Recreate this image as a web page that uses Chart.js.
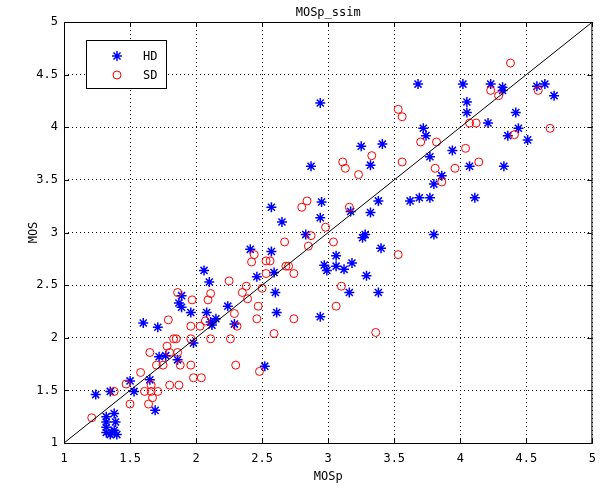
<!DOCTYPE html>
<html>
<head>
<meta charset="utf-8">
<script src="https://cdn.jsdelivr.net/npm/chart.js@4"></script>
<style>
html, body { margin: 0; padding: 0; background: #fff; }
</style>
</head>
<body>
<canvas id="myChart" width="605" height="486"></canvas>
<script>
// HD points (MOSp, MOS)
const hdX = [1.60, 1.71, 1.24, 1.35, 1.50, 1.53, 1.65, 1.69, 1.72, 1.77, 1.86, 1.98,
  1.32, 1.32, 1.38, 1.39, 1.32, 1.32, 1.35, 1.38, 1.40, 1.36,
  2.65, 2.41, 2.57, 2.06, 2.10, 2.46, 2.59, 2.60, 1.89, 1.87, 1.89, 1.96, 2.24, 2.61,
  2.08, 2.11, 2.15, 2.12, 2.29, 2.57, 3.25, 3.41, 2.87, 3.32, 2.95, 3.38, 2.94, 3.17,
  3.32, 2.83, 3.28, 3.26, 3.40, 3.06, 3.18, 2.97, 2.99, 3.06, 3.12, 3.29, 3.16, 3.38,
  2.94, 3.68, 4.02, 4.23, 4.32, 4.32, 4.05, 4.05, 4.21, 4.42, 3.72, 3.74, 4.36, 3.94,
  3.77, 4.07, 4.33, 3.86, 3.80, 3.62, 3.69, 3.77, 4.11, 3.80, 4.58, 4.64, 4.71, 4.44,
  4.51, 2.94, 2.52]
const hdY = [2.14, 2.10, 1.46, 1.49, 1.59, 1.49, 1.60, 1.31, 1.82, 1.83, 1.79, 1.95,
  1.25, 1.20, 1.28, 1.20, 1.15, 1.10, 1.08, 1.12, 1.08, 1.10,
  3.10, 2.84, 2.82, 2.64, 2.53, 2.58, 2.62, 2.43, 2.40, 2.33, 2.29, 2.24, 2.30, 2.24,
  2.24, 2.15, 2.18, 2.12, 2.13, 3.24, 3.82, 3.84, 3.63, 3.64, 3.29, 3.30, 3.14, 3.20,
  3.19, 2.98, 2.98, 2.95, 2.85, 2.78, 2.71, 2.69, 2.64, 2.68, 2.65, 2.59, 2.43, 2.43,
  2.20, 4.41, 4.41, 4.41, 4.38, 4.35, 4.24, 4.14, 4.04, 4.14, 3.99, 3.92, 3.92, 3.78,
  3.72, 3.63, 3.63, 3.54, 3.46, 3.30, 3.33, 3.33, 3.33, 2.98, 4.39, 4.41, 4.30, 3.99,
  3.88, 4.23, 1.73]

// SD points (MOSp, MOS)
const sdX = [1.79, 1.96, 2.03, 1.83, 1.85, 1.96, 1.78, 1.65, 1.80, 1.86, 1.70, 1.75,
  1.88, 1.96, 1.58, 1.47, 1.66, 1.80, 1.87, 1.98, 2.04, 1.38, 1.61, 1.66, 1.71, 1.67,
  1.50, 1.64, 1.21, 2.67, 2.44, 2.42, 2.53, 2.56, 2.68, 2.70, 2.74, 2.53, 2.25, 2.38,
  2.11, 2.09, 1.86, 1.97, 2.35, 2.39, 2.50, 2.47, 2.29, 2.46, 2.74, 2.07, 2.31, 2.59,
  2.11, 2.26, 2.30, 2.48, 3.33, 3.11, 3.13, 3.23, 3.56, 2.84, 2.80, 3.16, 2.98, 2.87,
  2.85, 3.04, 3.53, 3.10, 3.06, 3.36, 3.53, 3.56, 4.23, 4.29, 4.07, 4.12, 4.41, 3.70,
  3.82, 4.04, 3.81, 3.96, 4.14, 3.86, 4.38, 4.59, 4.68]
const sdY = [2.17, 2.11, 2.11, 1.99, 1.99, 1.99, 1.92, 1.86, 1.86, 1.86, 1.74, 1.74,
  1.74, 1.74, 1.67, 1.56, 1.55, 1.55, 1.55, 1.62, 1.62, 1.49, 1.49, 1.49, 1.49, 1.43,
  1.37, 1.37, 1.24, 2.91, 2.79, 2.72, 2.73, 2.73, 2.68, 2.68, 2.61, 2.61, 2.54, 2.49,
  2.42, 2.36, 2.43, 2.36, 2.43, 2.37, 2.47, 2.30, 2.23, 2.18, 2.18, 2.16, 2.11, 2.04,
  1.99, 1.99, 1.74, 1.68, 3.73, 3.67, 3.61, 3.55, 3.67, 3.30, 3.24, 3.24, 3.05, 2.97,
  2.87, 2.91, 2.79, 2.49, 2.30, 2.05, 4.17, 4.10, 4.35, 4.30, 4.04, 4.04, 3.93, 3.86,
  3.86, 3.80, 3.61, 3.61, 3.67, 3.48, 4.61, 4.35, 3.99]

const refLine = [1, 5]
const seriesNames = ['HD', 'SD']
const chartTitle = 'MOSp_ssim'
const xTitle = 'MOSp'
const yTitle = 'MOS'

const FONT = '"DejaVu Sans Mono", monospace'

const toPoints = (xs, ys) => xs.map((x, i) => ({ x: x, y: ys[i] }))

// box, inner ticks, titles and legend like the matlab figure
const matlabFrame = {
  id: 'matlabFrame',
  afterDraw(chart) {
    const { ctx, chartArea: a, scales } = chart
    ctx.save()
    ctx.strokeStyle = '#000'
    ctx.lineWidth = 1
    ctx.setLineDash([])
    ctx.strokeRect(a.left + 0.5, a.top + 0.5, a.right - a.left - 1, a.bottom - a.top)

    ctx.beginPath()
    scales.x.ticks.forEach(t => {
      const px = Math.round(scales.x.getPixelForValue(t.value)) + 0.5
      ctx.moveTo(px, a.bottom); ctx.lineTo(px, a.bottom - 5)
      ctx.moveTo(px, a.top); ctx.lineTo(px, a.top + 5)
    })
    scales.y.ticks.forEach(t => {
      const py = Math.round(scales.y.getPixelForValue(t.value)) + 0.5
      ctx.moveTo(a.left, py); ctx.lineTo(a.left + 5, py)
      ctx.moveTo(a.right, py); ctx.lineTo(a.right - 5, py)
    })
    ctx.stroke()

    ctx.fillStyle = '#000'
    ctx.font = '12px ' + FONT
    ctx.textAlign = 'center'
    ctx.textBaseline = 'middle'
    ctx.fillText(chartTitle, (a.left + a.right) / 2, 13)
    ctx.fillText(xTitle, (a.left + a.right) / 2, 477)
    ctx.save()
    ctx.translate(34, (a.top + a.bottom) / 2)
    ctx.rotate(-Math.PI / 2)
    ctx.fillText(yTitle, 0, 0)
    ctx.restore()

    // legend
    ctx.fillStyle = '#fff'
    ctx.fillRect(86, 40, 80, 48)
    ctx.strokeRect(86.5, 40.5, 80, 48)
    const rows = [56, 75]
    chart.data.datasets.slice(0, 2).forEach((ds, i) => {
      ctx.fillStyle = 'rgba(0,0,0,0)'
      ctx.strokeStyle = ds.borderColor
      ctx.lineWidth = ds.borderWidth
      Chart.helpers.drawPoint(ctx, {
        pointStyle: ds.pointStyle, radius: ds.pointRadius,
        borderWidth: ds.borderWidth, rotation: 0
      }, 117, rows[i])
      ctx.fillStyle = '#000'
      ctx.textAlign = 'left'
      ctx.fillText(seriesNames[i], 143, rows[i] + 1)
    })
    ctx.restore()
  }
}

const ctx = document.getElementById('myChart')

new Chart(ctx, {
  type: 'scatter',
  plugins: [matlabFrame],
  data: {
    datasets: [
      {
        label: seriesNames[0],
        data: toPoints(hdX, hdY),
        pointStyle: 'star',
        pointRadius: 5,
        borderColor: '#0000ff',
        backgroundColor: '#0000ff',
        borderWidth: 1.5,
        order: 3
      },
      {
        label: seriesNames[1],
        data: toPoints(sdX, sdY),
        pointStyle: 'circle',
        pointRadius: 4,
        borderColor: '#ff0000',
        backgroundColor: 'rgba(0,0,0,0)',
        borderWidth: 1,
        order: 2
      },
      {
        type: 'line',
        label: 'ref',
        data: toPoints(refLine, refLine),
        borderColor: '#000',
        borderWidth: 1,
        pointRadius: 0,
        order: 1
      }
    ]
  },
  options: {
    responsive: false,
    animation: false,
    devicePixelRatio: 1,
    layout: { padding: { top: 22, right: 9, left: 0, bottom: 0 } },
    plugins: {
      legend: { display: false },
      tooltip: { enabled: false }
    },
    scales: {
      x: {
        type: 'linear',
        min: 1,
        max: 5,
        ticks: {
          stepSize: 0.5, color: '#000', padding: 9, maxRotation: 0,
          font: { family: FONT, size: 12 },
          callback: v => String(v)
        },
        grid: { color: '#000', drawTicks: false, lineWidth: 1 },
        border: { display: false, dash: [1, 3] },
        afterFit(scale) { scale.height = 43 }
      },
      y: {
        type: 'linear',
        min: 1,
        max: 5,
        ticks: {
          stepSize: 0.5, color: '#000', padding: 6,
          font: { family: FONT, size: 12 },
          callback: v => String(v)
        },
        grid: { color: '#000', drawTicks: false, lineWidth: 1 },
        border: { display: false, dash: [1, 3] },
        afterFit(scale) { scale.width = 64 }
      }
    }
  }
})
</script>
</body>
</html>
